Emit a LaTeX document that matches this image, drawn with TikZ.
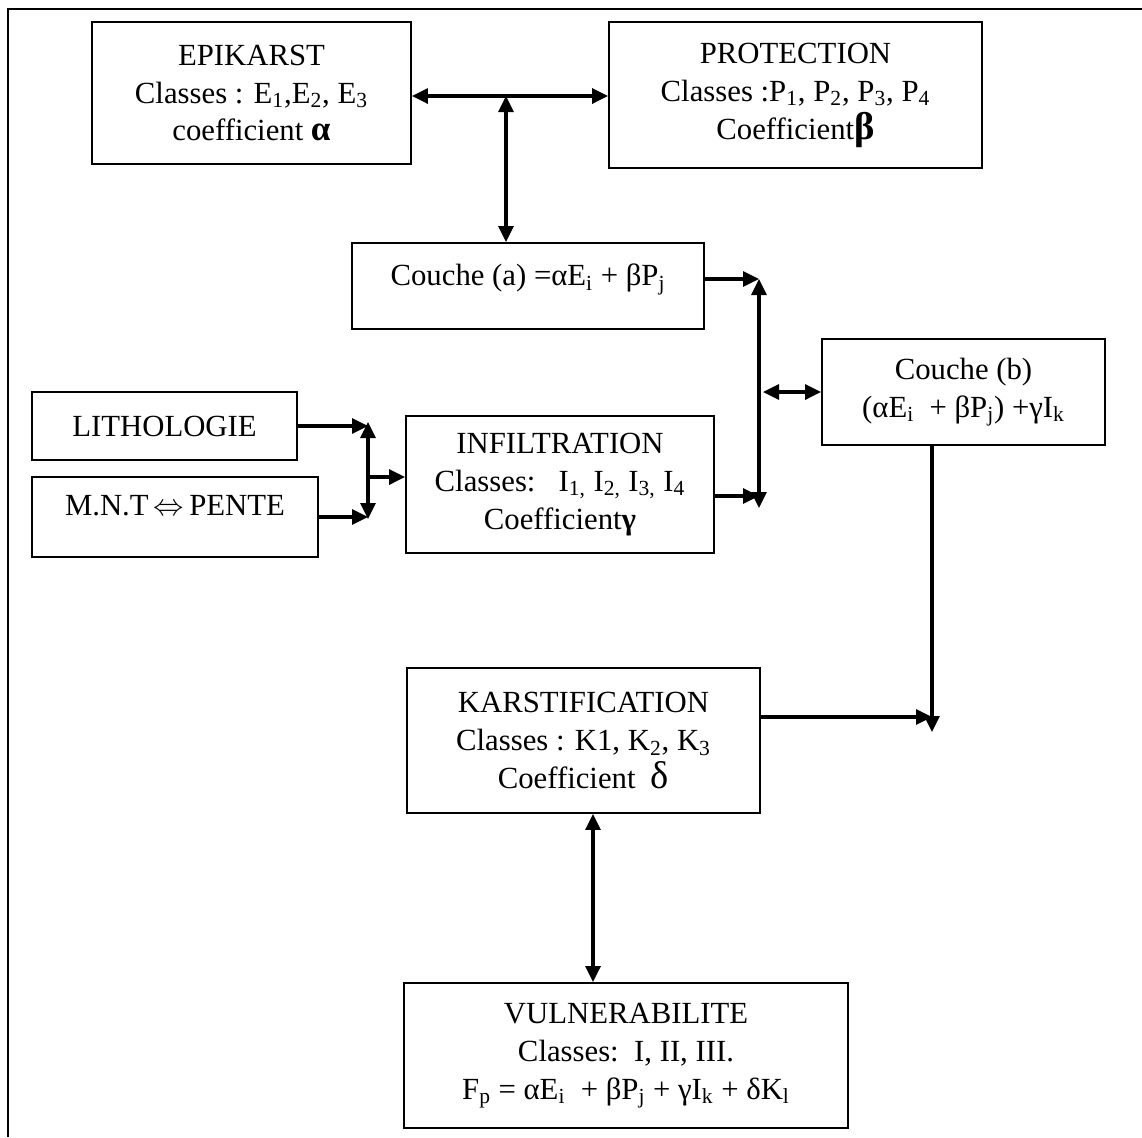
\documentclass[tikz,border=0pt]{standalone}
\usepackage{fontspec}
\setmainfont{Liberation Serif}
\usetikzlibrary{arrows.meta,calc}
\newcommand{\bigsym}[1]{{\fontsize{22}{22}\selectfont #1}}
\tikzset{
  box/.style={rectangle, draw=black, line width=1.1pt, align=center, inner sep=0pt,
              font=\fontsize{17.5}{21.6}\selectfont},
  highbox/.style={box, text depth=0.45cm},
  arrow/.style={-{Triangle[length=0.32cm, width=0.3cm]}, line width=1.8pt},
  dblarrow/.style={{Triangle[length=0.32cm, width=0.3cm]}-{Triangle[length=0.32cm, width=0.3cm]}, line width=1.8pt},
}

\begin{document}
\begin{tikzpicture}[x=0.02cm, y=-0.02cm]
\useasboundingbox (0,0) rectangle (1142,1137);
\draw[line width=1.2pt] (8,1137) -- (8,9) -- (1142,9);

\node[box, minimum width=6.38cm, minimum height=2.84cm] (epik) at (251.5,93)
  {EPIKARST\\Classes : E\textsubscript{1},E\textsubscript{2}, E\textsubscript{3}\\coefficient {\fontsize{20}{20}\selectfont\textbf{α}}};
\node[box, minimum width=7.46cm, minimum height=2.92cm] (prot) at (795.5,95)
  {PROTECTION\\Classes :P\textsubscript{1}, P\textsubscript{2}, P\textsubscript{3}, P\textsubscript{4}\\Coefficient\bigsym{\textbf{β}}};
\node[highbox, minimum width=7.04cm, minimum height=1.72cm] (couchea) at (528,286)
  {Couche (a) =αE\textsubscript{i} + βP\textsubscript{j}};
\node[box, minimum width=5.66cm, minimum height=2.12cm] (coucheb) at (963.5,392)
  {Couche (b)\\(αE\textsubscript{i}\ \ + βP\textsubscript{j}) +γI\textsubscript{k}};
\node[box, minimum width=5.3cm, minimum height=1.36cm] (lith) at (164.5,426) {LITHOLOGIE};
\node[highbox, minimum width=5.72cm, minimum height=1.6cm] (mnt) at (175,517)
  {M.N.T\,$\Leftrightarrow$\,PENTE};
\node[box, minimum width=6.16cm, minimum height=2.74cm] (infil) at (560,484.5)
  {INFILTRATION\\Classes:\ \ \ I\textsubscript{1,} I\textsubscript{2,} I\textsubscript{3,} I\textsubscript{4}\\Coefficient\textbf{γ}};
\node[box, minimum width=7.06cm, minimum height=2.9cm] (karst) at (583.5,740.5)
  {KARSTIFICATION\\Classes : K1, K\textsubscript{2}, K\textsubscript{3}\\Coefficient\ \ \bigsym{δ}};
\node[box, minimum width=8.88cm, minimum height=2.9cm] (vuln) at (626,1055.5)
  {VULNERABILITE\\Classes:\ \ I, II, III.\\F\textsubscript{p} = αE\textsubscript{i}\ \ + βP\textsubscript{j} + γI\textsubscript{k} + δK\textsubscript{l}};

\coordinate (ja) at (506,96);
\coordinate (jb1) at (759,279);
\coordinate (jb2) at (759,508);
\coordinate (jb3) at (763,392);
\coordinate (jc) at (932,732);
\coordinate (jd1) at (368,422);
\coordinate (jd2) at (368,519);
\coordinate (jd3) at (368,477);

\draw[dblarrow] (epik.east |- ja) -- (prot.west |- ja);
\draw[dblarrow] (ja) -- (ja |- couchea.north);
\draw[arrow] ([yshift=0.14cm]couchea.east) -- ([yshift=0.14cm]couchea.east -| jb1);
\draw[arrow] ([yshift=-0.23cm]infil.east) -- ([yshift=-0.23cm]infil.east -| jb1);
\draw[dblarrow] (jb1) -- (jb2);
\draw[dblarrow] (jb3) -- (coucheb.west);
\draw[arrow] (coucheb.south -| jc) -- (jc);
\draw[arrow] ([yshift=0.47cm]karst.east) -- ([yshift=0.47cm]karst.east -| jc);
\draw[dblarrow] (karst.south -| 593,0) -- (vuln.north -| 593,0);
\draw[arrow] (lith.east) -- (lith.east -| jd1);
\draw[arrow] (mnt.east) -- (mnt.east -| jd1);
\draw[dblarrow] (jd1) -- (jd2);
\draw[arrow] (jd3) -- (jd3 -| infil.west);
\end{tikzpicture}
\end{document}
